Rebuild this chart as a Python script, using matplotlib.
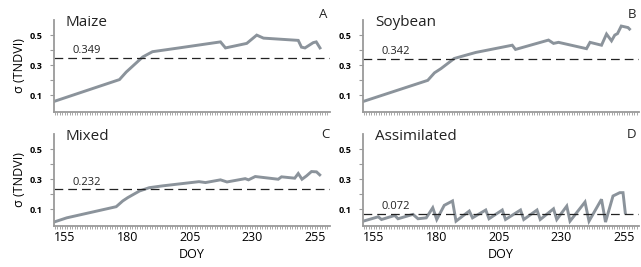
import matplotlib
matplotlib.use("Agg")
import matplotlib.pyplot as plt
import numpy as np

plt.rcParams['font.family'] = ['Open Sans', 'DejaVu Sans']

# Maize (panel A)
maize_doy = [150.6, 176.8, 179.5, 186.1, 190.0, 200.6, 217.2, 219.2, 227.7,
             231.7, 234.4, 248.3, 249.6, 251.0, 254.3, 255.5, 257.0]
maize_val = [0.060, 0.205, 0.255, 0.355, 0.390, 0.415, 0.455, 0.415, 0.445,
             0.500, 0.480, 0.465, 0.420, 0.415, 0.450, 0.455, 0.415]

# Soybean (panel B)
soy_doy = [150.7, 176.5, 179.2, 181.8, 187.1, 191.8, 195.7, 210.3, 211.6,
           224.8, 226.8, 228.8, 240.0, 241.4, 246.0, 248.0, 250.0, 251.3,
           252.4, 253.9, 256.6, 257.2]
soy_val = [0.060, 0.200, 0.250, 0.278, 0.345, 0.367, 0.385, 0.433, 0.405,
           0.467, 0.445, 0.452, 0.410, 0.452, 0.433, 0.507, 0.462, 0.500,
           0.510, 0.560, 0.550, 0.540]

# Mixed (panel C)
mixed_doy = [150.6, 155.7, 175.5, 178.1, 180.1, 184.8, 188.7, 194.0, 208.6,
             211.2, 217.2, 219.8, 227.1, 228.4, 231.1, 240.3, 241.6, 246.9,
             248.3, 249.8, 251.6, 253.6, 255.6, 256.9]
mixed_val = [0.016, 0.044, 0.118, 0.156, 0.178, 0.222, 0.244, 0.256, 0.284,
             0.278, 0.296, 0.282, 0.304, 0.296, 0.318, 0.300, 0.316, 0.307,
             0.338, 0.300, 0.322, 0.351, 0.349, 0.329]

# Assimilated (panel D)
assim_doy = [150.7, 156.7, 158.0, 163.3, 164.6, 170.6, 172.6, 175.9, 178.5,
             180.1, 183.1, 186.4, 187.8, 193.1, 194.4, 199.7, 201.0, 206.3,
             207.6, 213.6, 214.9, 220.2, 221.5, 226.8, 228.1, 232.1, 233.4,
             239.4, 241.0, 246.0, 247.6, 250.6, 253.3, 254.6, 255.5]
assim_val = [0.022, 0.051, 0.033, 0.060, 0.038, 0.067, 0.038, 0.044, 0.111,
             0.033, 0.127, 0.156, 0.022, 0.089, 0.044, 0.096, 0.038, 0.096,
             0.033, 0.096, 0.033, 0.096, 0.033, 0.104, 0.033, 0.122, 0.022,
             0.149, 0.022, 0.167, 0.016, 0.189, 0.211, 0.211, 0.078]

names = ["Maize", "Soybean", "Mixed", "Assimilated"]
letters = ["A", "B", "C", "D"]
thresholds = [0.349, 0.342, 0.232, 0.072]
series = [(maize_doy, maize_val), (soy_doy, soy_val),
          (mixed_doy, mixed_val), (assim_doy, assim_val)]

line_col = "#8b939b"
spine_col = "#9a9a9a"

fig = plt.figure(figsize=(6.41, 2.67), dpi=100)
lefts = [0.0842, 0.5663, 0.0842, 0.5663]
bottoms = [0.5805, 0.5805, 0.1536, 0.1536]
w, h = 0.4306, 0.3445
letter_pos = [(323, 15), (632, 15), (325, 135), (632, 135)]

for i in range(4):
    ax = fig.add_axes([lefts[i], bottoms[i], w, h])
    x, y = series[i]
    ax.plot(x, y, color=line_col, lw=2.1, solid_joinstyle='miter')
    ax.axhline(thresholds[i], color="#222222", lw=0.9, dashes=(7, 4))
    ax.text(158.2, thresholds[i] + 0.012, "%.3f" % thresholds[i],
            fontsize=8, color="#222222", va='bottom', ha='left')
    ax.text(0.043, 0.975, names[i], transform=ax.transAxes, fontsize=11,
            va='center', ha='left', color="#222222")

    ax.set_xlim(150.6, 261)
    ax.set_ylim(-0.01, 0.6)
    for s in ['top', 'right']:
        ax.spines[s].set_visible(False)
    for s in ['left', 'bottom']:
        ax.spines[s].set_color(spine_col)
        ax.spines[s].set_linewidth(1.3)

    ax.set_yticks([0.1, 0.2, 0.3, 0.4, 0.5])
    ax.set_yticklabels(["0.1", "", "0.3", "", "0.5"], fontsize=6.5,
                       fontweight='bold')
    ax.set_xticks([155, 180, 205, 230, 255])
    ax.set_xticks(np.arange(151, 261, 1), minor=True)
    ax.tick_params(axis='y', length=3, width=0.8, color=spine_col, pad=5)
    ax.tick_params(axis='x', which='both', length=1.8, width=0.6,
                   color=spine_col, pad=2)
    if i >= 2:
        ax.set_xticklabels(["155", "180", "205", "230", "255"], fontsize=9)
        ax.set_xlabel("DOY", fontsize=9, labelpad=3)
    else:
        ax.set_xticklabels([])
    if i % 2 == 0:
        ax.set_ylabel("σ (TNDVI)", fontsize=9, labelpad=3)

    lx, ly = letter_pos[i]
    fig.text(lx / 641, 1 - ly / 267, letters[i], fontsize=9.5,
             ha='center', va='center', color="#222222")

fig.savefig("out.png", dpi=100)
